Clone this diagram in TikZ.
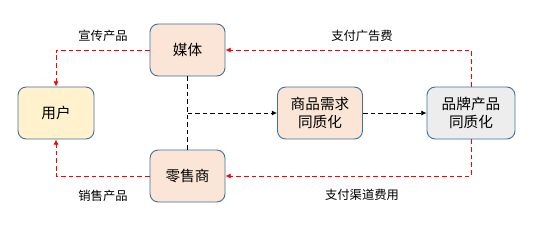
\documentclass[tikz,border=0pt]{standalone}
\usepackage{fontspec}
\usepackage{tikz}
\usetikzlibrary{arrows.meta,positioning,calc}
\newfontfamily\cjk{Noto Sans CJK SC}
\definecolor{boxLine}{HTML}{41719C}
\definecolor{peach}{HTML}{FBE5D6}
\definecolor{cream}{HTML}{FFF2CC}
\definecolor{lightGray}{HTML}{EDEDED}
\begin{document}
\begin{tikzpicture}[
    x=0.03cm, y=0.03cm,
    font=\cjk\fontsize{12.5}{15}\selectfont,
    box/.style={draw=boxLine, thick, rounded corners=7pt, align=center,
                minimum height=52*0.03cm, inner sep=1pt},
    label/.style={font=\cjk\fontsize{10.5}{12}\selectfont},
    money/.style={-{Latex[length=4.5pt,width=4.5pt]}, red, thick, dash pattern=on 4pt off 2.5pt},
    flow/.style={-{Latex[length=4.5pt,width=4.5pt]}, thick, dash pattern=on 4pt off 2.5pt}
]
    \useasboundingbox (0,0) rectangle (535,247);

    % Boxes
    \node[box, fill=cream, minimum width=76*0.03cm] (user) at (56,134) {用户};
    \node[box, fill=peach, minimum width=75*0.03cm] (media) at (187.5,197) {媒体};
    \node[box, fill=peach, minimum width=75*0.03cm] (retail) at (187.5,71) {零售商};
    \node[box, fill=peach, minimum width=85*0.03cm] (demand) at (320,134) {商品需求\\同质化};
    \node[box, fill=lightGray, minimum width=88*0.03cm] (brand) at (471,134) {品牌产品\\同质化};

    % Labels
    \node[label] (promo) at (103,211) {宣传产品};
    \node[label] (sell) at (103,51) {销售产品};
    \node[label] (adfee) at (362,211) {支付广告费};
    \node[label] (chfee) at (362,52) {支付渠道费用};

    % Arrows
    \coordinate (mid) at ($(media.south)!0.5!(retail.north)$);
    \draw[thick, dash pattern=on 4pt off 2.5pt] (media.south) -- (retail.north);
    \draw[flow] (mid) -- (demand.west);
    \draw[flow] (demand.east) -- (brand.west);
    \draw[money] (brand.north) |- (media.east);
    \draw[money] (brand.south) |- (retail.east);
    \draw[money] (media.west) -| (user.north);
    \draw[money] (retail.west) -| (user.south);
\end{tikzpicture}
\end{document}
